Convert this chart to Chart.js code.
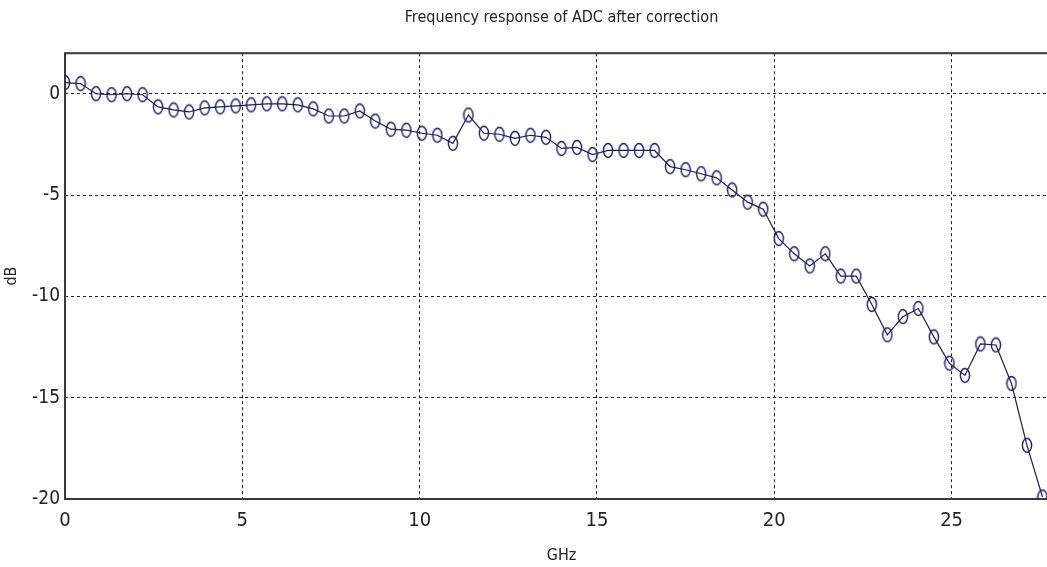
<!DOCTYPE html>
<html>
<head>
<meta charset="utf-8">
<script src="https://cdn.jsdelivr.net/npm/chart.js@4.4.0/dist/chart.umd.min.js"></script>
<style>
  html, body { margin: 0; padding: 0; background: #fff; overflow: hidden; }
  #wrap { width: 1068px; height: 567px; }
</style>
</head>
<body>
<div id="wrap"><canvas id="chart"></canvas></div>
<script>
// sample frequencies (GHz)
const freqGHz = [
  0, 0.4375, 0.875, 1.3125, 1.75, 2.1875, 2.625, 3.0625, 3.5, 3.9375,
  4.375, 4.8125, 5.25, 5.6875, 6.125, 6.5625, 7, 7.4375, 7.875, 8.3125,
  8.75, 9.1875, 9.625, 10.0625, 10.5, 10.9375, 11.375, 11.8125, 12.25, 12.6875,
  13.125, 13.5625, 14, 14.4375, 14.875, 15.3125, 15.75, 16.1875, 16.625, 17.0625,
  17.5, 17.9375, 18.375, 18.8125, 19.25, 19.6875, 20.125, 20.5625, 21, 21.4375,
  21.875, 22.3125, 22.75, 23.1875, 23.625, 24.0625, 24.5, 24.9375, 25.375, 25.8125,
  26.25, 26.6875, 27.125, 27.5625
]
// measured response after correction (dB)
const gainDb = [
  0.55, 0.5, 0.0, -0.05, 0.0, -0.05, -0.65, -0.8, -0.9, -0.7,
  -0.65, -0.6, -0.55, -0.5, -0.5, -0.55, -0.75, -1.1, -1.1, -0.85,
  -1.35, -1.75, -1.8, -1.95, -2.05, -2.45, -1.05, -1.95, -2.0, -2.2,
  -2.05, -2.15, -2.7, -2.65, -3.0, -2.8, -2.8, -2.8, -2.8, -3.6,
  -3.75, -3.95, -4.15, -4.75, -5.35, -5.7, -7.15, -7.9, -8.5, -7.9,
  -9.0, -9.0, -10.4, -11.9, -11.0, -10.6, -12.0, -13.3, -13.9, -12.35,
  -12.4, -14.3, -17.35, -19.9
]
const xTicks = [0, 5, 10, 15, 20, 25]
const yTicks = [-20, -15, -10, -5, 0]

const narrow = "'Liberation Sans Narrow', 'DejaVu Sans Condensed', 'Liberation Sans', sans-serif"

// MATLAB-ish 'o' marker, looks a bit tall in the source image
function ringMarker() {
  const c = document.createElement('canvas')
  c.width = 12
  c.height = 17
  const g = c.getContext('2d')
  g.strokeStyle = '#1c1c6a'
  g.lineWidth = 1.4
  g.beginPath()
  g.ellipse(6, 8.5, 4.6, 7, 0, 0, Math.PI * 2)
  g.stroke()
  return c
}

// box around the axes
const frame = {
  id: 'frame',
  beforeDatasetsDraw(chart) {
    const { ctx, chartArea: a } = chart
    ctx.save()
    ctx.strokeStyle = '#3a3a3a'
    ctx.lineWidth = 2
    ctx.strokeRect(a.left, a.top, a.right - a.left, a.bottom - a.top)
    ctx.restore()
  }
}

const points = freqGHz.map((f, i) => ({ x: f, y: gainDb[i] }))
const grid = { color: '#222', lineWidth: 1, drawTicks: false }

new Chart(document.getElementById('chart'), {
  type: 'scatter',
  data: {
    datasets: [{
      data: points,
      showLine: true,
      borderColor: '#1e1e50',
      borderWidth: 1.2,
      pointStyle: ringMarker(),
      pointRadius: 6,
      tension: 0,
    }],
  },
  options: {
    responsive: true,
    maintainAspectRatio: false,
    animation: false,
    layout: { padding: { left: 0, right: 10, top: 0, bottom: 0 } },
    plugins: {
      legend: { display: false },
      tooltip: { enabled: false },
      title: {
        display: true,
        fullSize: false,
        text: 'Frequency response of ADC after correction',
        color: '#222',
        font: { family: narrow, size: 16, weight: 'normal' },
        padding: { top: 8, bottom: 26 },
      },
    },
    scales: {
      x: {
        type: 'linear',
        min: 0,
        max: 28,
        afterBuildTicks: (s) => { s.ticks = xTicks.map((v) => ({ value: v })) },
        afterFit: (s) => { s.height = 68 },
        grid: grid,
        border: { display: false, dash: [3, 3] },
        ticks: { color: '#222', padding: 10, font: { family: narrow, size: 20 } },
        title: {
          display: true,
          text: 'GHz',
          color: '#222',
          font: { family: narrow, size: 16 },
          padding: { top: 0, bottom: 2 },
        },
      },
      y: {
        min: -20,
        max: 2,
        afterBuildTicks: (s) => { s.ticks = yTicks.map((v) => ({ value: v })) },
        afterFit: (s) => { s.width = 65 },
        grid: grid,
        border: { display: false, dash: [3, 3] },
        ticks: { color: '#222', padding: 5, font: { family: narrow, size: 19 } },
        title: {
          display: true,
          text: 'dB',
          color: '#222',
          font: { family: narrow, size: 16 },
          padding: { top: 2, bottom: 0 },
        },
      },
    },
  },
  plugins: [frame],
})
</script>
</body>
</html>
